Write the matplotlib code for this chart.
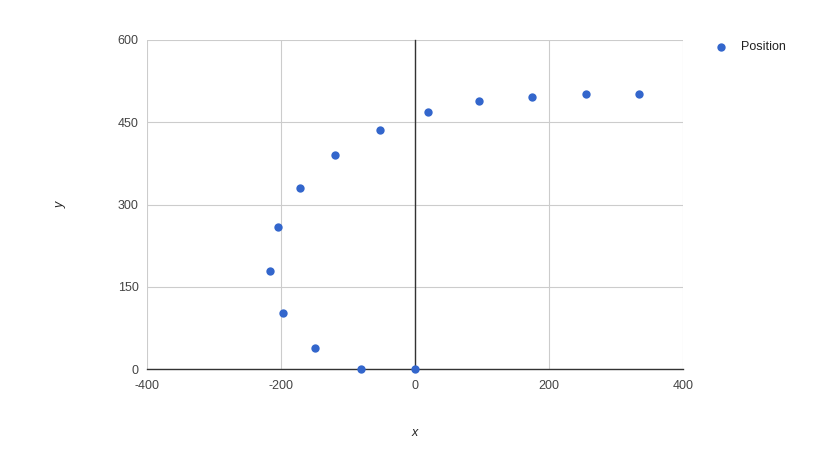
import matplotlib.pyplot as plt

# positions
x_vals = [0, -80, -149, -197, -216, -205, -172, -119, -53, 19, 96, 175, 255, 334]
y_vals = [0, 0, 38, 102, 180, 259, 331, 390, 436, 468, 488, 497, 502, 502]
x_ticks = [-400, -200, 0, 200, 400]
y_ticks = [0, 150, 300, 450, 600]

plt.rcParams['font.family'] = ['Liberation Sans', 'DejaVu Sans']
plt.rcParams['axes.unicode_minus'] = False

fig = plt.figure(figsize=(8.17, 4.59), dpi=100)
ax = fig.add_axes([0.180, 0.1954, 0.656, 0.7175])

ax.scatter(x_vals, y_vals, s=36, color='#3366cc', zorder=4, label='Position',
           linewidths=0, clip_on=False)

ax.set_xlim(-400, 400)
ax.set_ylim(0, 600)
ax.set_xticks(x_ticks)
ax.set_yticks(y_ticks)
ax.grid(True, color='#cccccc', linewidth=0.8)
ax.set_axisbelow(True)
for s in ax.spines.values():
    s.set_visible(False)
ax.axhline(0, color='#333333', linewidth=1, zorder=3, clip_on=False)
ax.axvline(0, color='#333333', linewidth=1, zorder=3, clip_on=False)
ax.tick_params(length=0, labelsize=9, colors='#444444', pad=6)
ax.tick_params(axis='x', pad=8)

ax.set_xlabel('x', style='italic', fontsize=9, color='#222222', labelpad=25)
ax.set_ylabel('y', style='italic', fontsize=9, color='#222222', labelpad=37)

fig.legend(loc='upper left', bbox_to_anchor=(0.853, 0.935), frameon=False,
           fontsize=9, handletextpad=0.6, markerscale=1.0,
           labelcolor='#222222')

fig.savefig('out.png', dpi=100)
